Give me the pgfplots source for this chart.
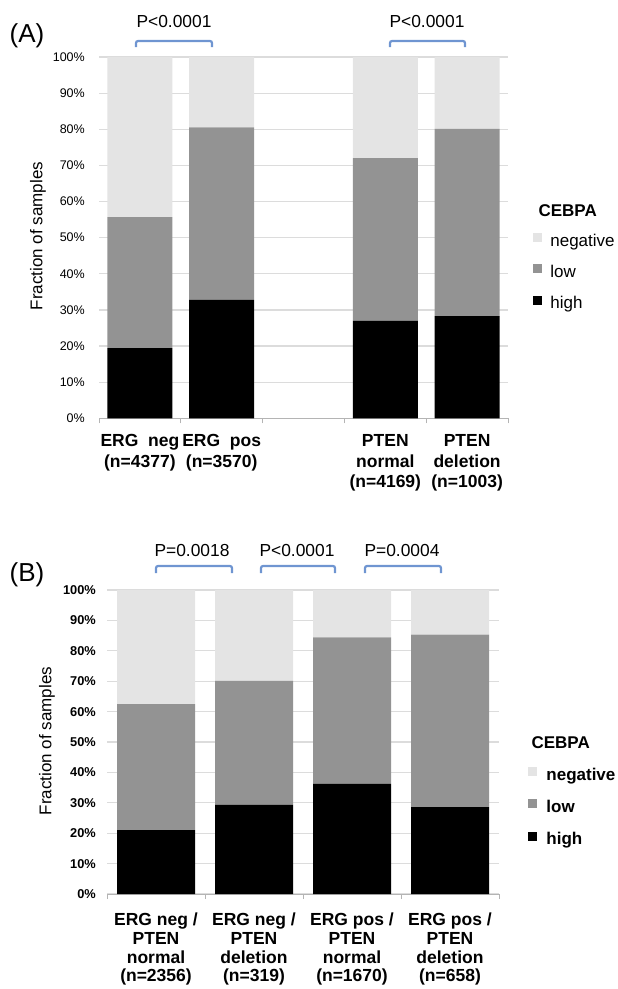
\documentclass[border=0pt]{standalone}
\usepackage{fontspec}
\setmainfont{Liberation Sans}
\usepackage{pgfplots}
\pgfplotsset{compat=1.18}
\definecolor{cneg}{HTML}{E4E4E4}
\definecolor{clow}{HTML}{939393}
\definecolor{chigh}{HTML}{000000}
\definecolor{cgrid}{HTML}{DCDCDC}
\definecolor{cbr}{HTML}{6F95D1}
\definecolor{caxis}{HTML}{B4B4B4}
\pgfplotsset{
  mybase/.style={
    scale only axis,
    ybar stacked,
    ymin=0, ymax=100,
    ytick={0,10,...,100},
    yticklabels={0\%,10\%,20\%,30\%,40\%,50\%,60\%,70\%,80\%,90\%,100\%},
    ymajorgrids,
    grid style={cgrid, line width=1.2pt},
    axis lines=left,
    x axis line style={caxis, line width=1pt, -},
    y axis line style={draw=none},
    major tick length=0pt,
    xtick style={draw=none},
    xtick=data,
    extra x tick style={xtick style={draw=caxis, line width=1pt}, tick align=outside, major tick length=5pt},
    extra x tick labels={},
    xticklabel style={align=center, anchor=north, inner sep=0pt},
    yticklabel style={anchor=east, inner sep=0pt},
    legend cell align=left,
  }
}
\begin{document}
\begin{tikzpicture}
\path (0pt,0pt) rectangle (618pt,-989pt);
% ---------------- Panel A ----------------
\begin{axis}[mybase,
  at={(99pt,-418.3pt)}, anchor=south west,
  width=409pt, height=361.3pt,
  xmin=-0.5, xmax=4.5,
  bar width=65pt,
  extra x ticks={-0.5,0.5,1.5,2.5,3.5,4.5},
  xticklabels={ERG\ \ neg\\(n=4377), ERG\ \ pos\\(n=3570), PTEN\\normal\\(n=4169), PTEN\\deletion\\(n=1003)},
  xticklabel style={font=\bfseries\fontsize{17.5}{20.5}\selectfont, yshift=-16pt},
  yticklabel style={font=\normalfont\mdseries\fontsize{12.5}{15}\selectfont, xshift=-14pt},
  legend style={at={(1.0611,0.513)}, anchor=north west, draw=none, fill=none, inner sep=0pt,
    font=\fontsize{17}{20}\selectfont, row sep=14pt,
    nodes={inner sep=0pt, text height=12pt, text depth=4pt}},
]
\addplot[fill=chigh, draw=none, forget plot] coordinates {(0,19.4) (1,32.8) (3,27.0) (4,28.3)};
\addplot[fill=clow, draw=none, forget plot] coordinates {(0,36.3) (1,47.7) (3,45.0) (4,51.8)};
\addplot[fill=cneg, draw=none, forget plot] coordinates {(0,44.3) (1,19.5) (3,28.0) (4,19.9)};
\addlegendimage{legend image code/.code={\fill[cneg] (0pt,1pt) rectangle (8pt,9pt); \path[draw=none] (0pt,0pt) -- (17pt,0pt);}}
\addlegendentry{negative}
\addlegendimage{legend image code/.code={\fill[clow] (0pt,1pt) rectangle (8pt,9pt); \path[draw=none] (0pt,0pt) -- (17pt,0pt);}}
\addlegendentry{low}
\addlegendimage{legend image code/.code={\fill[chigh] (0pt,1pt) rectangle (8pt,9pt); \path[draw=none] (0pt,0pt) -- (17pt,0pt);}}
\addlegendentry{high}
\end{axis}
% ---------------- Panel B ----------------
\begin{axis}[mybase,
  at={(107pt,-894pt)}, anchor=south west,
  width=392pt, height=304pt,
  xmin=-0.5, xmax=3.5,
  bar width=78pt,
  extra x ticks={-0.5,0.5,1.5,2.5,3.5},
  xticklabels={ERG neg /\\PTEN\\normal\\(n=2356), ERG neg /\\PTEN\\deletion\\(n=319), ERG pos /\\PTEN\\normal\\(n=1670), ERG pos /\\PTEN\\deletion\\(n=658)},
  xticklabel style={font=\bfseries\fontsize{17.5}{18.7}\selectfont, yshift=-19pt},
  yticklabel style={font=\bfseries\fontsize{12.8}{15}\selectfont, xshift=-11pt},
  legend style={at={(1.074,0.4178)}, anchor=north west, draw=none, fill=none, inner sep=0pt,
    font=\bfseries\fontsize{17}{20}\selectfont, row sep=15pt,
    nodes={inner sep=0pt, text height=12pt, text depth=4pt}},
]
\addplot[fill=chigh, draw=none, forget plot] coordinates {(0,21.0) (1,29.3) (2,36.2) (3,28.6)};
\addplot[fill=clow, draw=none, forget plot] coordinates {(0,41.5) (1,40.8) (2,48.2) (3,56.7)};
\addplot[fill=cneg, draw=none, forget plot] coordinates {(0,37.5) (1,29.9) (2,15.6) (3,14.7)};
\addlegendimage{legend image code/.code={\fill[cneg] (0pt,1pt) rectangle (8pt,9pt); \path[draw=none] (0pt,0pt) -- (18pt,0pt);}}
\addlegendentry{negative}
\addlegendimage{legend image code/.code={\fill[clow] (0pt,1pt) rectangle (8pt,9pt); \path[draw=none] (0pt,0pt) -- (18pt,0pt);}}
\addlegendentry{low}
\addlegendimage{legend image code/.code={\fill[chigh] (0pt,1pt) rectangle (8pt,9pt); \path[draw=none] (0pt,0pt) -- (18pt,0pt);}}
\addlegendentry{high}
\end{axis}
% ---------------- annotations ----------------
\node[font=\fontsize{26}{30}\selectfont] at (27pt,-36pt) {(A)};
\node[font=\fontsize{26}{30}\selectfont] at (27pt,-575pt) {(B)};
\node[rotate=90, font=\fontsize{17}{20}\selectfont] at (38pt,-236pt) {Fraction of samples};
\node[rotate=90, font=\fontsize{17}{20}\selectfont] at (47pt,-741pt) {Fraction of samples};
\node[anchor=west, font=\bfseries\fontsize{17}{20}\selectfont] at (535pt,-211pt) {CEBPA};
\node[anchor=west, font=\bfseries\fontsize{17}{20}\selectfont] at (528pt,-743pt) {CEBPA};
\begin{scope}[cbr, line width=2.2pt, rounded corners=2pt]
\draw (136pt,-47pt) -- (136pt,-41pt) -- (212pt,-41pt) -- (212pt,-47pt);
\draw (390pt,-47pt) -- (390pt,-41pt) -- (465pt,-41pt) -- (465pt,-47pt);
\draw (156pt,-573pt) -- (156pt,-566pt) -- (232pt,-566pt) -- (232pt,-573pt);
\draw (261pt,-573pt) -- (261pt,-566pt) -- (335pt,-566pt) -- (335pt,-573pt);
\draw (365pt,-573pt) -- (365pt,-566pt) -- (441pt,-566pt) -- (441pt,-573pt);
\end{scope}
\begin{scope}[font=\fontsize{17.4}{20}\selectfont]
\node at (174pt,-22pt) {P<0.0001};
\node at (427pt,-22pt) {P<0.0001};
\node at (192pt,-551pt) {P=0.0018};
\node at (297pt,-551pt) {P<0.0001};
\node at (402pt,-551pt) {P=0.0004};
\end{scope}
\pgfresetboundingbox
\path[use as bounding box] (0pt,0pt) rectangle (618pt,-989pt);
\end{tikzpicture}
\end{document}
